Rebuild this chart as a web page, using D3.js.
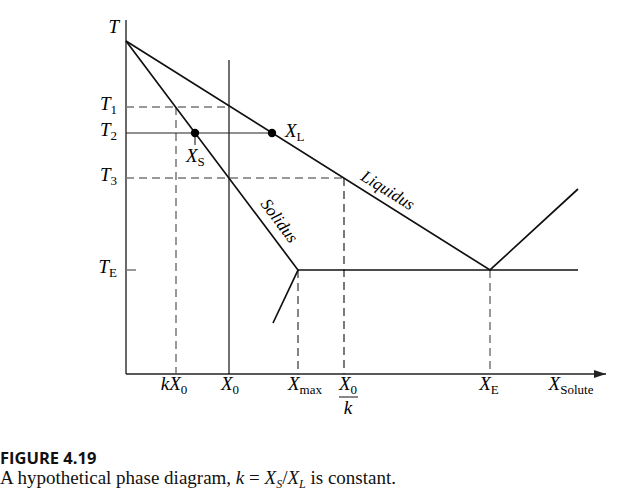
<!DOCTYPE html>
<html><head><meta charset="utf-8">
<script src="https://cdn.jsdelivr.net/npm/d3@7"></script>
<style>
html,body{margin:0;padding:0;background:#fff;}
svg{display:block;}
.serif{font-family:"Liberation Serif","Times New Roman",serif;}
</style></head>
<body>
<svg id="chart" width="628" height="501"></svg>
<script>
// ---- data (composition units along X, temperature units along T) ----
const apex = [0, 333];
const liquidus = [[0, 333], [364, 104], [452, 185]];
const solidus = [[0, 333], [172, 104], [147, 51]];
const eutectic = [[172, 104], [452, 104]];
const tempNames = ["T1", "T2", "T3", "TE"];
const tempSubs = ["1", "2", "3", "E"];
const tempValues = [267, 241, 196, 104];
const compNames = ["kX0", "X0", "Xmax", "X0/k", "XE"];
const compValues = [50, 103, 172, 218, 364];
const x0Top = 314;
const xsComp = 69, xlComp = 146;   // tie line at T2
const xDomain = [0, 480];
const tDomain = [0, 354];

const svg = d3.select("#chart");
const x = d3.scaleLinear().domain(xDomain).range([126, 606]);
const y = d3.scaleLinear().domain(tDomain).range([374, 20]);
const line = d3.line().x(d => x(d[0])).y(d => y(d[1]));

const gray = "#777";
const dash = "8,5";

svg.append("defs").append("marker")
  .attr("id","arr").attr("viewBox","0 0 12 8").attr("refX",12).attr("refY",4)
  .attr("markerWidth",12).attr("markerHeight",8).attr("markerUnits","userSpaceOnUse")
  .attr("orient","auto")
  .append("path").attr("d","M0,0L12,4L0,8Z").attr("fill","#222");

// axes
svg.append("line").attr("x1",x(0)).attr("x2",x(0)).attr("y1",y(tDomain[1])).attr("y2",y(0))
  .attr("stroke","#444").attr("stroke-width",1.6);
svg.append("line").attr("x1",x(0)).attr("x2",x(xDomain[1])).attr("y1",y(0)).attr("y2",y(0))
  .attr("stroke","#222").attr("stroke-width",1.6).attr("marker-end","url(#arr)");

// TE tick
svg.append("line").attr("x1",x(0)).attr("x2",x(0)+10).attr("y1",y(tempValues[3])).attr("y2",y(tempValues[3]))
  .attr("stroke",gray).attr("stroke-width",1.5);

// dashed guide lines
svg.append("line").attr("x1",x(0)).attr("x2",x(compValues[1])).attr("y1",y(tempValues[0])).attr("y2",y(tempValues[0]))
  .attr("stroke",gray).attr("stroke-width",1.4).attr("stroke-dasharray",dash);
svg.append("line").attr("x1",x(compValues[0])).attr("x2",x(compValues[0])).attr("y1",y(tempValues[0])).attr("y2",y(0))
  .attr("stroke","#555").attr("stroke-width",1.2).attr("stroke-dasharray",dash);
svg.append("line").attr("x1",x(0)).attr("x2",x(compValues[3])).attr("y1",y(tempValues[2])).attr("y2",y(tempValues[2]))
  .attr("stroke",gray).attr("stroke-width",1.4).attr("stroke-dasharray",dash);
svg.append("line").attr("x1",x(compValues[3])).attr("x2",x(compValues[3])).attr("y1",y(tempValues[2])).attr("y2",y(0))
  .attr("stroke","#222").attr("stroke-width",1.2).attr("stroke-dasharray",dash);
svg.append("line").attr("x1",x(compValues[2])).attr("x2",x(compValues[2])).attr("y1",y(tempValues[3])).attr("y2",y(0))
  .attr("stroke","#333").attr("stroke-width",1.2).attr("stroke-dasharray",dash);
svg.append("line").attr("x1",x(compValues[4])).attr("x2",x(compValues[4])).attr("y1",y(tempValues[3])).attr("y2",y(0))
  .attr("stroke",gray).attr("stroke-width",1.5).attr("stroke-dasharray",dash);

// X0 solid vertical
svg.append("line").attr("x1",x(compValues[1])).attr("x2",x(compValues[1])).attr("y1",y(x0Top)).attr("y2",y(0))
  .attr("stroke","#111").attr("stroke-width",1.2);
// T2 tie line
svg.append("line").attr("x1",x(0)).attr("x2",x(xlComp)).attr("y1",y(tempValues[1])).attr("y2",y(tempValues[1]))
  .attr("stroke","#222").attr("stroke-width",1.1);
// XS small tick
svg.append("line").attr("x1",x(xsComp)).attr("x2",x(xsComp)).attr("y1",y(tempValues[1])).attr("y2",y(tempValues[1])+12)
  .attr("stroke","#222").attr("stroke-width",1.1);

// phase boundaries
[liquidus, solidus, eutectic].forEach(d => {
  svg.append("path").attr("d", line(d)).attr("fill","none").attr("stroke","#111").attr("stroke-width",1.7);
});

// dots
[xsComp, xlComp].forEach(c => {
  svg.append("circle").attr("cx",x(c)).attr("cy",y(tempValues[1])).attr("r",4.2).attr("fill","#000");
});

// labels
const fs = "19px", ss = "13px";
function sub(t, main, s){
  t.append("tspan").attr("font-style","italic").text(main);
  t.append("tspan").attr("font-size",ss).attr("dy",4).attr("font-style","normal").text(s);
}
svg.append("text").attr("class","serif").attr("x",x(0)-7).attr("y",y(apex[1])-8).attr("text-anchor","end")
  .attr("font-size",fs).attr("font-style","italic").text("T");
tempValues.forEach((v,i) => {
  const t = svg.append("text").attr("class","serif").attr("x",x(0)-9).attr("y",y(v)+3)
    .attr("text-anchor","end").attr("font-size",fs);
  sub(t, "T", tempSubs[i]);
});
{
  const t = svg.append("text").attr("class","serif").attr("x",x(xlComp)+13).attr("y",y(tempValues[1])+4).attr("font-size",fs);
  sub(t,"X","L");
  const t2 = svg.append("text").attr("class","serif").attr("x",x(xsComp)-9).attr("y",y(tempValues[1])+29).attr("font-size",fs);
  sub(t2,"X","S");
}
// bottom labels
const by = y(0) + 16;
function bottom(cx, parts){
  const t = svg.append("text").attr("class","serif").attr("x",cx).attr("y",by).attr("text-anchor","middle").attr("font-size",fs);
  parts.forEach(p => {
    const ts = t.append("tspan").attr("font-style", p.i ? "italic":"normal").text(p.t);
    if (p.s) ts.attr("font-size",ss).attr("dy",p.dy||0);
  });
  return t;
}
bottom(x(compValues[0])-2, [{t:"kX",i:1},{t:"0",s:1,dy:4}]);
bottom(x(compValues[1])+1, [{t:"X",i:1},{t:"0",s:1,dy:4}]);
bottom(x(compValues[2])+7, [{t:"X",i:1},{t:"max",s:1,dy:4}]);
bottom(x(compValues[3])+4, [{t:"X",i:1},{t:"0",s:1,dy:4}]);
svg.append("line").attr("x1",x(compValues[3])-5).attr("x2",x(compValues[3])+14).attr("y1",by+7).attr("y2",by+7)
  .attr("stroke","#111").attr("stroke-width",1);
svg.append("text").attr("class","serif").attr("x",x(compValues[3])+4).attr("y",by+24).attr("text-anchor","middle")
  .attr("font-size",fs).attr("font-style","italic").text("k");
bottom(x(compValues[4])-1, [{t:"X",i:1},{t:"E",s:1,dy:4}]);
bottom(571, [{t:"X",i:1},{t:"Solute",s:1,dy:4}]);

// rotated labels
const angL = Math.atan2(y(liquidus[1][1]) - y(liquidus[0][1]), x(liquidus[1][0]) - x(liquidus[0][0])) * 180/Math.PI;
svg.append("text").attr("class","serif").attr("font-size","17px").attr("font-style","italic")
  .attr("text-anchor","middle")
  .attr("transform",`translate(${x(256)+3},${y(172)-7}) rotate(${angL})`).text("Liquidus");
const angS = Math.atan2(y(solidus[1][1]) - y(solidus[0][1]), x(solidus[1][0]) - x(solidus[0][0])) * 180/Math.PI;
svg.append("text").attr("class","serif").attr("font-size","17px").attr("font-style","italic")
  .attr("text-anchor","middle")
  .attr("transform",`translate(${x(140)+9},${y(145)-5}) rotate(${angS})`).text("Solidus");

// caption
svg.append("text").attr("x",0).attr("y",464).attr("font-family","'Open Sans','Liberation Sans',sans-serif")
  .attr("font-weight","bold").attr("font-size","16.5px").attr("fill","#111").text("FIGURE 4.19");
{
  const t = svg.append("text").attr("class","serif").attr("x",0).attr("y",484).attr("font-size","19px").attr("fill","#111");
  t.append("tspan").text("A hypothetical phase diagram, ");
  t.append("tspan").attr("font-style","italic").text("k");
  t.append("tspan").text(" = ");
  t.append("tspan").attr("font-style","italic").text("X");
  t.append("tspan").attr("font-style","italic").attr("font-size","12px").attr("dy",4).text("S");
  t.append("tspan").attr("dy",-4).text("/");
  t.append("tspan").attr("font-style","italic").text("X");
  t.append("tspan").attr("font-style","italic").attr("font-size","12px").attr("dy",4).text("L");
  t.append("tspan").attr("dy",-4).text(" is constant.");
}
</script>
</body></html>
